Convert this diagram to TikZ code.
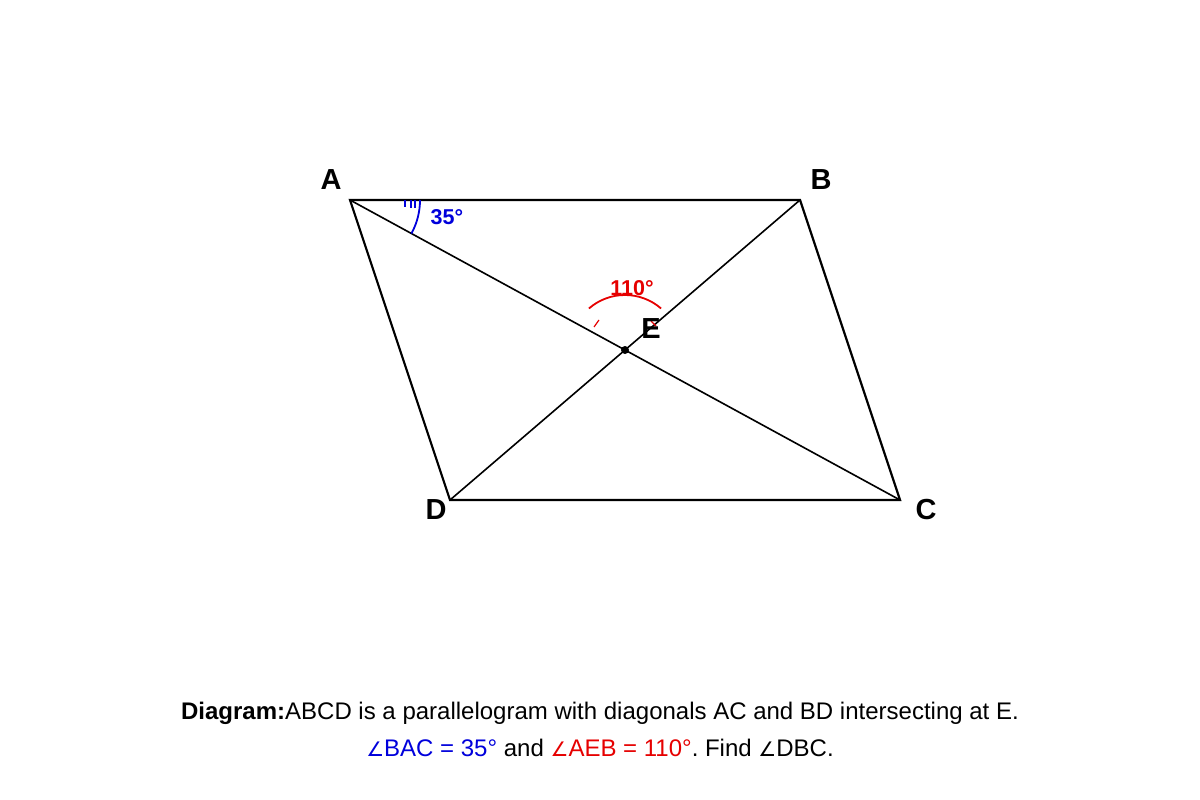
\documentclass[tikz,border=0pt]{standalone}
\usepackage{fontspec}
\setmainfont{Liberation Sans}
\newfontfamily\djv{DejaVu Sans}
\newcommand{\ang}{{\djv\fontsize{20}{24}\selectfont\char"2220}}
\definecolor{myblue}{RGB}{0,0,220}
\definecolor{myred}{RGB}{230,0,0}
\frenchspacing
\begin{document}
\begin{tikzpicture}[x=1pt,y=-1pt,
  side/.style={line width=2.2pt,black},
  diag/.style={line width=1.6pt,black},
  ptlabel/.style={font=\bfseries\fontsize{29}{32}\selectfont,inner sep=0pt},
  anglab/.style={font=\bfseries\fontsize{21.5}{24}\selectfont,inner sep=0pt},
  captext/.style={font=\fontsize{24}{28}\selectfont,inner sep=0pt}]
\useasboundingbox (0,0) rectangle (1200,800);
\fill[white] (0,0) rectangle (1200,800);
\coordinate (A) at (350,200);
\coordinate (B) at (800,200);
\coordinate (C) at (900,500);
\coordinate (D) at (450,500);
\coordinate (E) at (625,350);
\draw[side,line join=miter] (A) -- (B) -- (C) -- (D) -- cycle;
\draw[diag] (A) -- (C);
\draw[diag] (B) -- (D);
\fill (E) circle (4);
% blue angle (y axis points down: positive angles go down)
\draw[myblue,line width=1.8pt] (A) ++(0:70) arc[start angle=0,end angle=28.6,radius=70];
\draw[myblue,line width=1.2pt] (405,200) -- (405,207);
\draw[myblue,line width=1.2pt] (411,200) -- (411,208);
\draw[myblue,line width=1.2pt] (415,200) -- (415,208);
% red angle
\draw[myred,line width=1.8pt] (E) ++(-131:55) arc[start angle=-131,end angle=-49,radius=55];
\draw[myred,line width=1.2pt] (594,327) -- (599,320);
\draw[myred,line width=1.2pt] (651,321) -- (656,326);
\node[ptlabel] (lA) at (331,180) {A};
\node[ptlabel] (lB) at (821,180) {B};
\node[ptlabel] (lC) at (926,510) {C};
\node[ptlabel] (lD) at (436,510) {D};
\node[ptlabel] (lE) at (651,329) {E};
\node[anglab,text=myblue] (a35) at (447,217) {35°};
\node[anglab,text=myred] (a110) at (632,288) {110°};
\node[captext] (cap1) at (600,713) {\textbf{Diagram:}ABCD is a parallelogram with diagonals AC and BD intersecting at E.};
\node[captext] (cap2) at (600,748) {\textcolor{myblue}{\ang BAC = 35°} and \textcolor{myred}{\ang AEB = 110°}. Find \ang DBC.};
\end{tikzpicture}
\end{document}
